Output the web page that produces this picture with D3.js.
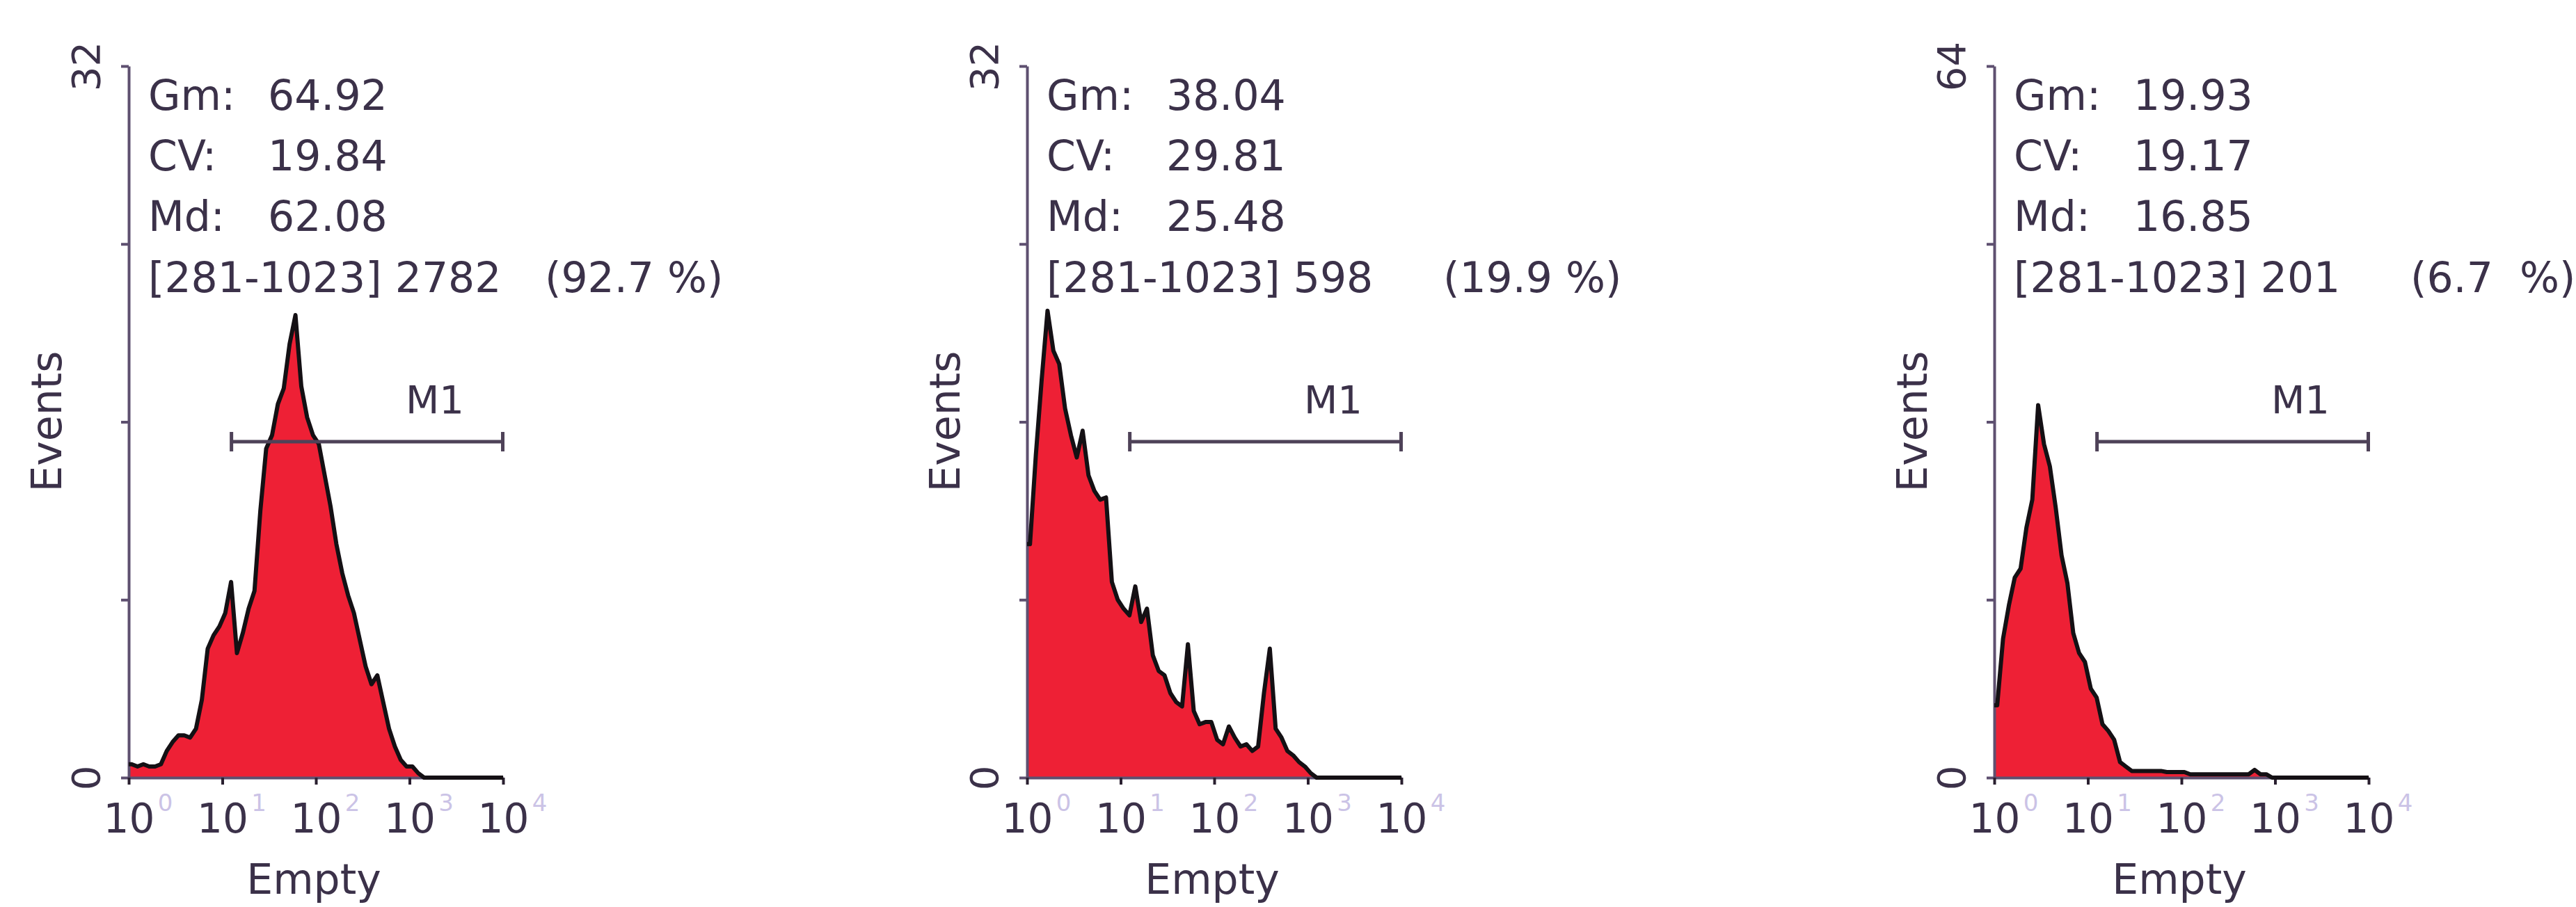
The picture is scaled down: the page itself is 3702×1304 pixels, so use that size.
<!DOCTYPE html>
<html>
<head>
<meta charset="utf-8">
<script src="https://cdn.jsdelivr.net/npm/d3@7"></script>
<style>
	body { margin: 0; background: #ffffff; }
	text { font-family: "DejaVu Sans", sans-serif; }
</style>
</head>
<body>
<div id="chart"></div>
<script>
(function () {
	//Values
	var panelMax = [32, 32, 64];
	var gmValues = ["64.92", "38.04", "19.93"];
	var cvValues = ["19.84", "29.81", "19.17"];
	var mdValues = ["62.08", "25.48", "16.85"];
	var gateCounts = ["2782", "598", "201"];
	var gatePercents = ["(92.7 %)", "(19.9 %)", "(6.7  %)"];
	var gateRange = [281, 1023];
	var decadeTicks = [1, 10, 100, 1000, 10000];

	//Events per bin, 16 bins per decade, 10^0 to 10^4
	var countsA = [0.6, 0.5, 0.6, 0.5, 0.5, 0.6, 1.2, 1.6, 1.9, 1.9, 1.8, 2.2, 3.5, 5.8, 6.4, 6.8,
		7.4, 8.8, 5.6, 6.5, 7.6, 8.4, 12.0, 14.8, 15.4, 16.8, 17.5, 19.5, 20.8, 17.6, 16.2, 15.4,
		15.0, 13.6, 12.2, 10.5, 9.2, 8.2, 7.4, 6.2, 5.0, 4.2, 4.6, 3.4, 2.2, 1.4, 0.8, 0.5,
		0.5, 0.2, 0, 0, 0, 0, 0, 0, 0, 0, 0, 0, 0, 0, 0, 0];
	var countsB = [10.5, 14.5, 17.9, 21.0, 19.2, 18.6, 16.6, 15.4, 14.4, 15.6, 13.6, 12.9, 12.5, 12.6, 8.8, 8.0,
		7.6, 7.3, 8.6, 7.0, 7.6, 5.5, 4.8, 4.6, 3.8, 3.4, 3.2, 6.0, 3.0, 2.4, 2.5, 2.5,
		1.7, 1.5, 2.3, 1.8, 1.4, 1.5, 1.2, 1.4, 3.8, 5.8, 2.2, 1.8, 1.2, 1.0, 0.7, 0.5,
		0.2, 0, 0, 0, 0, 0, 0, 0, 0, 0, 0, 0, 0, 0, 0, 0];
	var countsC = [6.5, 12.5, 15.5, 18.0, 18.8, 22.5, 25.0, 33.5, 30.0, 28.0, 24.3, 20.0, 17.5, 13.0, 11.2, 10.4,
		8.0, 7.2, 4.8, 4.2, 3.4, 1.4, 1.0, 0.6, 0.6, 0.6, 0.6, 0.6, 0.6, 0.5, 0.5, 0.5,
		0.5, 0.3, 0.3, 0.3, 0.3, 0.3, 0.3, 0.3, 0.3, 0.3, 0.3, 0.3, 0.7, 0.3, 0.3, 0,
		0, 0, 0, 0, 0, 0, 0, 0, 0, 0, 0, 0, 0, 0, 0, 0];
	var panels = [countsA, countsB, countsC];

	//Width and height
	var w = 3702;
	var h = 1304;
	var axisX = [185, 1476, 2866];
	var plotW = 538;
	var topY = 95;
	var baseY = 1118;

	var textColor = "#3b3149";
	var axisColor = "#5e5070";
	var fillColor = "#ee2035";

	var svg = d3.select("#chart")
		.append("svg")
		.attr("width", w)
		.attr("height", h);

	panels.forEach(function (counts, p) {
		var x0 = axisX[p];
		var xScale = d3.scaleLog()
			.domain([1, 10000])
			.range([x0, x0 + plotW]);
		var yScale = d3.scaleLinear()
			.domain([0, panelMax[p]])
			.range([baseY, topY]);

		//Bin centres, plus the two ends of the axis
		var pts = [{ v: 1, c: counts[0] }];
		counts.forEach(function (c, i) {
			pts.push({ v: Math.pow(10, (i + 0.5) / 16), c: c });
		});
		pts.push({ v: 10000, c: counts[counts.length - 1] });

		var g = svg.append("g");

		//Filled histogram
		g.append("path")
			.datum(pts)
			.attr("d", d3.area()
				.x(function (d) { return xScale(d.v); })
				.y0(baseY)
				.y1(function (d) { return yScale(d.c); }))
			.attr("fill", fillColor);

		//Y axis, only 0 and max labelled, labels turned on their side
		var yAxis = d3.axisLeft(yScale)
			.tickValues([0, 1, 2, 3, 4].map(function (k) { return panelMax[p] * k / 4; }))
			.tickSize(11)
			.tickSizeOuter(0)
			.tickFormat(function (d) {
				return (d === 0 || d === panelMax[p]) ? d : "";
			});
		var gy = g.append("g")
			.attr("transform", "translate(" + x0 + ",0)")
			.call(yAxis);
		gy.select(".domain").attr("stroke", axisColor).attr("stroke-width", 4);
		gy.selectAll(".tick line").attr("stroke", axisColor).attr("stroke-width", 4);
		gy.selectAll(".tick text")
			.attr("transform", "rotate(-90)")
			.attr("x", 0)
			.attr("y", -42)
			.attr("dy", 0)
			.attr("text-anchor", "middle")
			.attr("font-size", 56)
			.attr("font-family", "DejaVu Sans")
			.attr("fill", textColor);

		//X axis, decades
		var xAxis = d3.axisBottom(xScale)
			.tickValues(decadeTicks)
			.tickSize(10)
			.tickSizeOuter(0)
			.tickFormat(function () { return "10"; });
		var gx = g.append("g")
			.attr("transform", "translate(0," + baseY + ")")
			.call(xAxis);
		gx.select(".domain").attr("stroke", axisColor).attr("stroke-width", 4);
		gx.selectAll(".tick line").attr("stroke", "#2a2030").attr("stroke-width", 4);
		gx.selectAll(".tick text")
			.attr("y", 79)
			.attr("dy", 0)
			.attr("font-size", 58)
			.attr("font-family", "DejaVu Sans")
			.attr("fill", textColor);
		//Faint exponents
		gx.selectAll(".tick")
			.append("text")
			.attr("x", 52)
			.attr("y", 48)
			.attr("font-size", 34)
			.attr("fill", "#cbc3e6")
			.text(function (d) { return Math.round(Math.log10(d)); });

		//Outline on top
		g.append("path")
			.datum(pts)
			.attr("d", d3.line()
				.x(function (d) { return xScale(d.v); })
				.y(function (d) { return yScale(d.c); }))
			.attr("fill", "none")
			.attr("stroke", "#141014")
			.attr("stroke-width", 6)
			.attr("stroke-linejoin", "round");

		//Axis titles
		g.append("text")
			.attr("text-anchor", "middle")
			.attr("transform", "translate(" + (x0 - 97) + ",606)rotate(-90)")
			.attr("font-size", 60)
			.attr("fill", textColor)
			.text("Events");
		g.append("text")
			.attr("text-anchor", "middle")
			.attr("x", x0 + 266)
			.attr("y", 1285)
			.attr("font-size", 60)
			.attr("fill", textColor)
			.text("Empty");

		//Marker M1
		var mx1 = xScale(Math.pow(10, gateRange[0] / 256));
		var mx2 = xScale(Math.pow(10, gateRange[1] / 256));
		var my = 635;
		g.append("line")
			.attr("x1", mx1).attr("x2", mx2)
			.attr("y1", my).attr("y2", my)
			.attr("stroke", "#4e4258").attr("stroke-width", 5);
		[mx1, mx2].forEach(function (mx) {
			g.append("line")
				.attr("x1", mx).attr("x2", mx)
				.attr("y1", my - 14).attr("y2", my + 14)
				.attr("stroke", "#4e4258").attr("stroke-width", 5);
		});
		g.append("text")
			.attr("text-anchor", "middle")
			.attr("x", x0 + 440)
			.attr("y", 594)
			.attr("font-size", 56)
			.attr("fill", textColor)
			.text("M1");

		//Statistics block
		var stats = [["Gm:", gmValues[p], 158], ["CV:", cvValues[p], 245], ["Md:", mdValues[p], 332]];
		stats.forEach(function (s) {
			g.append("text")
				.attr("x", x0 + 28).attr("y", s[2])
				.attr("font-size", 60).attr("fill", textColor)
				.text(s[0]);
			g.append("text")
				.attr("x", x0 + 200).attr("y", s[2])
				.attr("font-size", 60).attr("fill", textColor)
				.text(s[1]);
		});
		g.append("text")
			.attr("x", x0 + 28).attr("y", 420)
			.attr("font-size", 60).attr("fill", textColor)
			.text("[" + gateRange[0] + "-" + gateRange[1] + "] " + gateCounts[p]);
		g.append("text")
			.attr("x", x0 + 598).attr("y", 420)
			.attr("font-size", 60).attr("fill", textColor)
			.style("white-space", "pre")
			.text(gatePercents[p]);
	});
})();
</script>
</body>
</html>
